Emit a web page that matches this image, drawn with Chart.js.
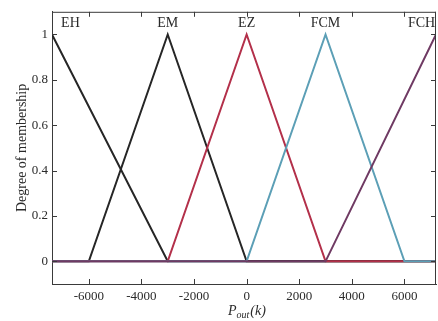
<!DOCTYPE html>
<html>
<head>
<meta charset="utf-8">
<script src="https://cdn.jsdelivr.net/npm/chart.js@4.4.1/dist/chart.umd.min.js"></script>
<style>
  html, body { margin: 0; padding: 0; background: #ffffff; }
  #wrap { width: 438px; height: 321px; }
</style>
</head>
<body>
<div id="wrap"><canvas id="mf" width="438" height="321"></canvas></div>
<script>
// membership function breakpoints (x = P_out(k), y = degree)
const ehX = [-7400, -3000, 7200];
const ehY = [1, 0, 0];
const emX = [-7400, -6000, -3000, 0, 7200];
const emY = [0, 0, 1, 0, 0];
const ezX = [-7400, -3000, 0, 3000, 7200];
const ezY = [0, 0, 1, 0, 0];
const fcmX = [-7400, 0, 3000, 6000, 7200];
const fcmY = [0, 0, 1, 0, 0];
const fchX = [-7400, 3000, 7200];
const fchY = [0, 0, 1];

const setNames = ["EH", "EM", "EZ", "FCM", "FCH"];
const nameX = [-6700, -3000, 0, 3000, 6650];

const xTicks = [-6000, -4000, -2000, 0, 2000, 4000, 6000];
const xTickLabels = ["-6000", "-4000", "-2000", "0", "2000", "4000", "6000"];
const yTicks = [0, 0.2, 0.4, 0.6, 0.8, 1];
const yTickLabels = ["0", "0.2", "0.4", "0.6", "0.8", "1"];

const serif = "'Liberation Serif', 'DejaVu Serif', serif";
const axisColor = "#3a3a3a";

function points(xs, ys) {
  return xs.map(function (x, i) { return { x: x, y: ys[i] }; });
}

function series(label, xs, ys, color, order) {
  return {
    label: label,
    data: points(xs, ys),
    borderColor: color,
    backgroundColor: color,
    borderWidth: 2,
    pointRadius: 0,
    showLine: true,
    tension: 0,
    order: order
  };
}

// frame, inward ticks, set names and axis titles
const decorations = {
  id: "decorations",
  afterDraw: function (chart) {
    const ctx = chart.ctx;
    const a = chart.chartArea;
    const xs = chart.scales.x;
    const ys = chart.scales.y;
    ctx.save();
    ctx.strokeStyle = axisColor;
    ctx.lineWidth = 1;
    ctx.beginPath();
    ctx.moveTo(a.left, a.top + 0.5);
    ctx.lineTo(a.right, a.top + 0.5);
    ctx.moveTo(a.right - 0.5, a.top);
    ctx.lineTo(a.right - 0.5, a.bottom);
    xTicks.forEach(function (v) {
      const px = Math.round(xs.getPixelForValue(v)) + 0.5;
      ctx.moveTo(px, a.bottom);
      ctx.lineTo(px, a.bottom - 5);
      ctx.moveTo(px, a.top);
      ctx.lineTo(px, a.top + 5);
    });
    yTicks.forEach(function (v) {
      const py = Math.round(ys.getPixelForValue(v)) + 0.5;
      ctx.moveTo(a.left, py);
      ctx.lineTo(a.left + 5, py);
      ctx.moveTo(a.right, py);
      ctx.lineTo(a.right - 5, py);
    });
    ctx.stroke();

    ctx.fillStyle = "#2a2a2a";
    ctx.font = "14px " + serif;
    ctx.textAlign = "center";
    ctx.textBaseline = "middle";
    setNames.forEach(function (name, i) {
      ctx.fillText(name, xs.getPixelForValue(nameX[i]), ys.getPixelForValue(1.05));
    });

    // x title: P_out(k)
    ctx.textAlign = "left";
    ctx.textBaseline = "alphabetic";
    const tx = 228;
    const ty = 315;
    ctx.font = "italic 14px " + serif;
    ctx.fillText("P", tx, ty);
    const pw = ctx.measureText("P").width;
    ctx.font = "italic 10px " + serif;
    ctx.fillText("out", tx + pw, ty + 3);
    const ow = ctx.measureText("out").width;
    ctx.font = "italic 14px " + serif;
    ctx.fillText("(k)", tx + pw + ow + 1, ty);

    // y title
    ctx.translate(22, (a.top + a.bottom) / 2);
    ctx.rotate(-Math.PI / 2);
    ctx.textAlign = "center";
    ctx.textBaseline = "middle";
    ctx.font = "14px " + serif;
    ctx.fillText("Degree of membership", 0, 0);
    ctx.restore();
  }
};

new Chart(document.getElementById("mf"), {
  type: "scatter",
  data: {
    datasets: [
      series("EH", ehX, ehY, "#262626", 4),
      series("EM", emX, emY, "#262626", 3),
      series("EZ", ezX, ezY, "#b3304a", 2),
      series("FCM", fcmX, fcmY, "#5c9fb6", 1),
      series("FCH", fchX, fchY, "#6f3a63", 0)
    ]
  },
  options: {
    responsive: false,
    animation: false,
    layout: { padding: { top: 8, right: 2, left: 0, bottom: 0 } },
    plugins: {
      legend: { display: false },
      tooltip: { enabled: false }
    },
    scales: {
      x: {
        type: "linear",
        min: -7400,
        max: 7200,
        afterBuildTicks: function (scale) {
          scale.ticks = xTicks.map(function (v) { return { value: v }; });
        },
        afterFit: function (scale) { scale.height = 37; },
        grid: { display: false, drawTicks: false },
        border: { display: true, color: axisColor, width: 1 },
        ticks: {
          color: "#2a2a2a",
          padding: 5,
          maxRotation: 0,
          autoSkip: false,
          font: { family: serif, size: 13 },
          callback: function (value) {
            const i = xTicks.indexOf(value);
            return i >= 0 ? xTickLabels[i] : "";
          }
        }
      },
      y: {
        min: -0.1,
        max: 1.1,
        afterBuildTicks: function (scale) {
          scale.ticks = yTicks.map(function (v) { return { value: v }; });
        },
        afterFit: function (scale) { scale.width = 52; },
        grid: { display: false, drawTicks: false },
        border: { display: true, color: axisColor, width: 1 },
        ticks: {
          color: "#2a2a2a",
          padding: 4,
          autoSkip: false,
          font: { family: serif, size: 13 },
          callback: function (value) {
            const i = yTicks.findIndex(function (t) { return Math.abs(t - value) < 1e-9; });
            return i >= 0 ? yTickLabels[i] : "";
          }
        }
      }
    }
  },
  plugins: [decorations]
});
</script>
</body>
</html>
